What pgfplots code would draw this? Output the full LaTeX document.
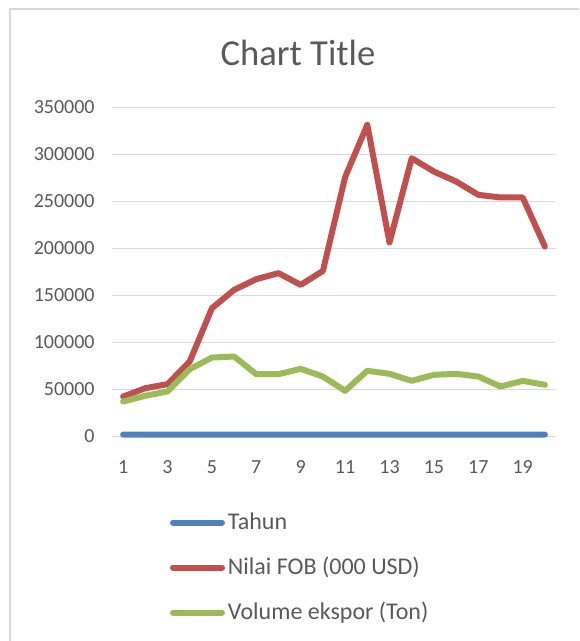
\documentclass[border=0pt]{standalone}
\usepackage{fontspec}
\setmainfont{Carlito}
\usepackage{pgfplots}
\pgfplotsset{compat=1.18}
\definecolor{cblue}{HTML}{4F81BD}
\definecolor{cred}{HTML}{C0504D}
\definecolor{cgreen}{HTML}{9BBB59}
\definecolor{cgrid}{HTML}{D9D9D9}
\definecolor{ctext}{HTML}{595959}
\begin{document}
\begin{tikzpicture}
\useasboundingbox (0pt,0pt) rectangle (289.5pt,-320.5pt);
\draw[cgrid, line width=1pt] (4.75pt,-320.5pt) -- (4.75pt,-4.5pt) -- (289.5pt,-4.5pt);
\node[anchor=base, text=ctext, font=\fontsize{18.3}{21}\selectfont, inner sep=0pt] at (149pt,-33pt) {Chart Title};
\begin{axis}[
  at={(56pt,-218.25pt)}, anchor=south west,
  scale only axis, width=222pt, height=164.5pt,
  xmin=0.5, xmax=20.5, ymin=0, ymax=350000,
  xtick={1,3,5,7,9,11,13,15,17,19},
  xticklabels={1,3,5,7,9,11,13,15,17,19},
  ytick={0,50000,100000,150000,200000,250000,300000,350000},
  yticklabels={0,50000,100000,150000,200000,250000,300000,350000},
  scaled y ticks=false,
  major tick length=0pt,
  axis line style={draw=none},
  ymajorgrids, grid style={cgrid, line width=0.65pt},
  ticklabel style={text=ctext, font=\fontsize{10}{12}\selectfont, inner sep=0pt},
  yticklabel style={anchor=east, xshift=-8.5pt},
  xticklabel style={anchor=north, yshift=-11.75pt},
  clip=false,
  legend cell align=left,
  legend style={draw=none, fill=none, inner sep=0pt, outer sep=0pt,
    at={(rel axis cs:0.1306,-0.2316)}, anchor=north west,
    row sep=11.5pt, column sep=1.5pt,
    font=\fontsize{12}{14}\selectfont, text=ctext,
    nodes={inner sep=0pt, text height=8.5pt, text depth=2.5pt}},
  legend image code/.code={\draw[#1, line width=3pt, line cap=round] (1.5pt,0.6pt) -- (26pt,0.6pt);},
  every axis plot/.append style={line width=3pt, line cap=round, line join=round, mark=none},
]
\addplot[cblue] coordinates {
(1,2000)(2,2001)(3,2002)(4,2003)(5,2004)(6,2005)(7,2006)(8,2007)(9,2008)(10,2009)
(11,2010)(12,2011)(13,2012)(14,2013)(15,2014)(16,2015)(17,2016)(18,2017)(19,2018)(20,2019)};
\addlegendentry{Tahun}
\addplot[cred] coordinates {
(1,42500)(2,51400)(3,55700)(4,79800)(5,136500)(6,156000)(7,167400)(8,173800)(9,161300)(10,176200)
(11,275900)(12,331600)(13,206400)(14,296100)(15,281900)(16,271300)(17,257100)(18,254300)(19,254300)(20,202100)};
\addlegendentry{Nilai FOB (000 USD)}
\addplot[cgreen] coordinates {
(1,37200)(2,43300)(3,47900)(4,71600)(5,84000)(6,85100)(7,66300)(8,66300)(9,72000)(10,63800)
(11,48600)(12,69900)(13,66700)(14,59200)(15,65600)(16,66700)(17,63800)(18,53200)(19,59200)(20,55000)};
\addlegendentry{Volume ekspor (Ton)}
\end{axis}
\end{tikzpicture}
\end{document}
